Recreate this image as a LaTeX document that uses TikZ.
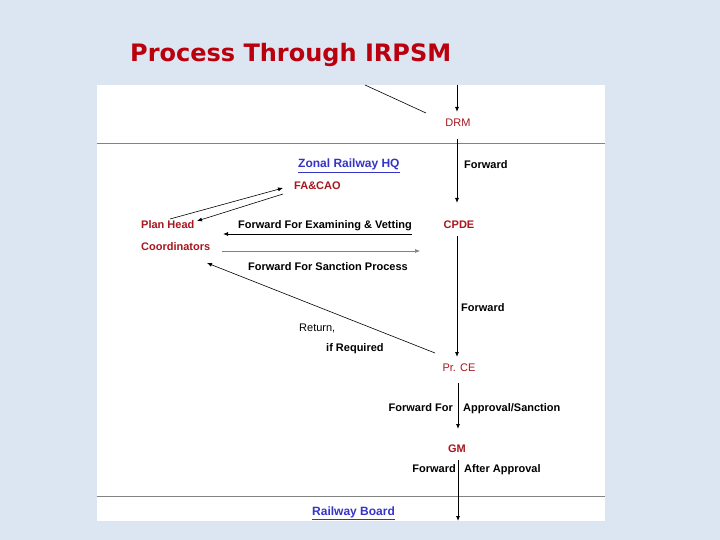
\documentclass[tikz,border=0pt]{standalone}
\usepackage{fontspec}
\setmainfont{Liberation Sans}
\newfontfamily\titlefont{DejaVu Sans}
\usetikzlibrary{arrows.meta}
\definecolor{bgblue}{RGB}{220,230,242}
\definecolor{lblred}{RGB}{168,22,32}
\definecolor{ttlred}{RGB}{185,0,12}
\definecolor{lnkblue}{RGB}{52,52,200}
\definecolor{rulegray}{RGB}{130,130,130}
\tikzset{
  lbl/.style={inner sep=0pt, font=\fontsize{11}{13}\selectfont\bfseries, text=black},
  redlbl/.style={lbl, text=lblred},
  bluelbl/.style={lbl, text=lnkblue, font=\fontsize{12}{14}\selectfont\bfseries},
  conn/.style={draw=black, line width=0.8pt, -{Latex[length=5pt,width=4pt]}},
  thin conn/.style={draw=black, line width=0.6pt, -{Latex[length=5pt,width=4pt]}},
  plainline/.style={draw=black, line width=0.6pt},
  sepline/.style={draw=rulegray, line width=0.8pt}
}
\begin{document}
\begin{tikzpicture}[x=1pt,y=-1pt]
\fill[bgblue] (0,0) rectangle (720,540);
\useasboundingbox (0,0) rectangle (720,540);
\fill[white] (97,85) rectangle (605,521);
% title
\node[anchor=base west, inner sep=0pt, text=ttlred, font=\titlefont\fontsize{24}{28}\selectfont\bfseries] (title) at (130,62) {Process Through IRPSM};
% separators
\coordinate (s1a) at (97,143); \coordinate (s1b) at (605,143);
\coordinate (s2a) at (97,496); \coordinate (s2b) at (605,496);
\draw[sepline] (s1a) -- (s1b);
\draw[sepline] (s2a) -- (s2b);
% nodes
\node[redlbl, anchor=base, font=\fontsize{11}{13}\selectfont] (drm) at (458,127) {DRM};
\node[bluelbl, anchor=base west] (zonal) at (298,168) {\underline{Zonal Railway HQ}};
\node[lbl, anchor=base west] (fw1) at (464,169) {Forward};
\node[redlbl, anchor=base west] (facao) at (294,190) {FA\&CAO};
\node[redlbl, anchor=base west] (plan) at (141,229) {Plan Head};
\node[lbl, anchor=base west] (exam) at (238,229) {Forward For Examining \& Vetting};
\node[redlbl, anchor=base] (cpde) at (459,229) {CPDE};
\node[redlbl, anchor=base west] (coord) at (141,250) {Coordinators};
\node[lbl, anchor=base west] (sanc) at (248,270) {Forward For Sanction Process};
\node[lbl, anchor=base west] (fw2) at (461,311) {Forward};
\node[lbl, anchor=base west, font=\fontsize{11}{13}\selectfont] (ret) at (299,331) {Return,};
\node[lbl, anchor=base west] (ifreq) at (326,351) {if Required};
\node[redlbl, anchor=base, font=\fontsize{11}{13}\selectfont] (prce) at (459,371) {Pr. CE};
\node[lbl, anchor=base east] (fwfor) at (453,411) {Forward For};
\node[lbl, anchor=base west] (appr) at (463,411) {Approval/Sanction};
\node[redlbl, anchor=base] (gm) at (457,452) {GM};
\node[lbl, anchor=base east] (fw3) at (456,472) {Forward};
\node[lbl, anchor=base west] (after) at (464,472) {After Approval};
\node[bluelbl, anchor=base west] (rb) at (312,515) {\underline{Railway Board}};
% connector end points
\coordinate (v0) at (457,85);   \coordinate (v1) at (457,112);
\coordinate (v2) at (457,139);  \coordinate (v3) at (457,203);
\coordinate (v4) at (457,236);  \coordinate (v5) at (457,357);
\coordinate (v6) at (458,383);  \coordinate (v7) at (458,429);
\coordinate (v8) at (458,460);  \coordinate (v9) at (458,521);
\coordinate (d0) at (365,85);   \coordinate (d1) at (426,113);
\coordinate (f0) at (170,219);  \coordinate (f1) at (283,188);
\coordinate (f2) at (283,194);  \coordinate (f3) at (197,221);
\coordinate (e0) at (412,234);  \coordinate (e1) at (223,234);
\coordinate (p0) at (222,251);  \coordinate (p1) at (420,251);
\coordinate (r0) at (435,353);  \coordinate (r1) at (207,263);
% connectors
\draw[conn] (v0) -- (v1);
\draw[plainline] (d0) -- (d1);
\draw[conn] (v2) -- (v3);
\draw[conn] (v4) -- (v5);
\draw[conn] (v6) -- (v7);
\draw[conn] (v8) -- (v9);
\draw[thin conn] (f0) -- (f1);
\draw[thin conn] (f2) -- (f3);
\draw[conn] (e0) -- (e1);
\draw[thin conn, draw=rulegray] (p0) -- (p1);
\draw[thin conn] (r0) -- (r1);
\end{tikzpicture}
\end{document}
